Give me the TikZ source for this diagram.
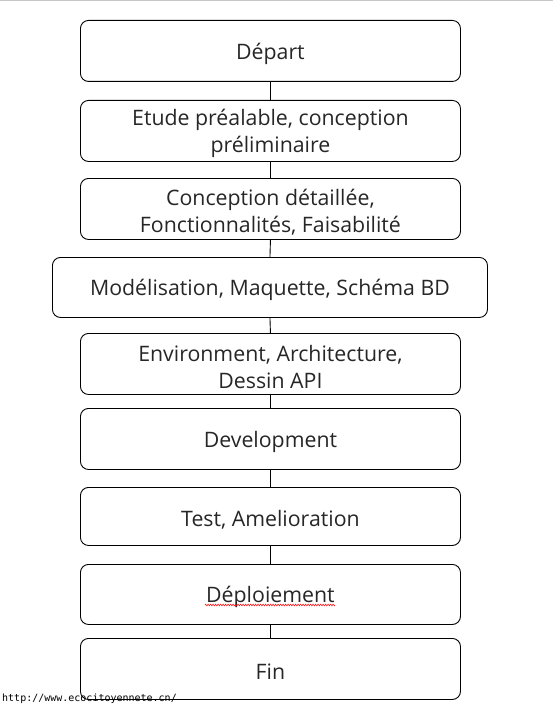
\documentclass[tikz,border=0pt]{standalone}
\usepackage{fontspec}
\setmainfont{Open Sans}
\newfontfamily\wmfont{DejaVu Sans Mono}
\newcommand\topstrut{\rule{0pt}{22pt}}
\usetikzlibrary{decorations.pathmorphing}
\begin{document}
\begin{tikzpicture}[x=1pt,y=-1pt,
  stepbox/.style={draw, line width=0.9pt, rounded corners=8pt, align=center,
    font=\fontsize{21.3}{27}\selectfont, text=black!85, inner sep=0pt, anchor=north west},
  link/.style={draw, line width=0.9pt}]
\useasboundingbox (0,0) rectangle (553,706);
\draw[gray!45, line width=1.5pt] (0,0.75) -- (553,0.75);
\node[stepbox, minimum width=380pt, minimum height=61pt] (b1) at (80,20) {\topstrut Départ};
\node[stepbox, minimum width=380pt, minimum height=61pt] (b2) at (80,100) {\topstrut Etude préalable, conception\\préliminaire};
\node[stepbox, minimum width=380pt, minimum height=61pt] (b3) at (80,178) {\topstrut Conception détaillée,\\Fonctionnalités, Faisabilité};
\node[stepbox, minimum width=435pt, minimum height=60pt] (b4) at (52,257) {\topstrut Modélisation, Maquette, Schéma BD};
\node[stepbox, minimum width=380pt, minimum height=61pt] (b5) at (80,333) {\topstrut Environment, Architecture,\\Dessin API};
\node[stepbox, minimum width=380pt, minimum height=61pt] (b6) at (80,408) {\topstrut Development};
\node[stepbox, minimum width=380pt, minimum height=58pt] (b7) at (80,487) {\topstrut Test, Amelioration};
\node[stepbox, minimum width=380pt, minimum height=60pt] (b8) at (80,564) {\topstrut Déploiement};
\node[stepbox, minimum width=380pt, minimum height=61pt] (b9) at (80,638) {\topstrut Fin};
\foreach \a/\b in {b1/b2,b2/b3,b3/b4,b4/b5,b5/b6,b6/b7,b7/b8,b8/b9}
  \path[link] (\a.south) -- (\b.north);
\coordinate (w1) at (205,605);
\coordinate (w2) at (335,605);
\draw[red, line width=0.5pt, decorate, decoration={zigzag, amplitude=0.9pt, segment length=2.5pt}] (w1) -- (w2);
\node[anchor=base west, inner sep=0pt, font=\wmfont\fontsize{10}{11}\selectfont] (wm) at (2,701) {http://www.ecocitoyennete.cn/};
\end{tikzpicture}
\end{document}
